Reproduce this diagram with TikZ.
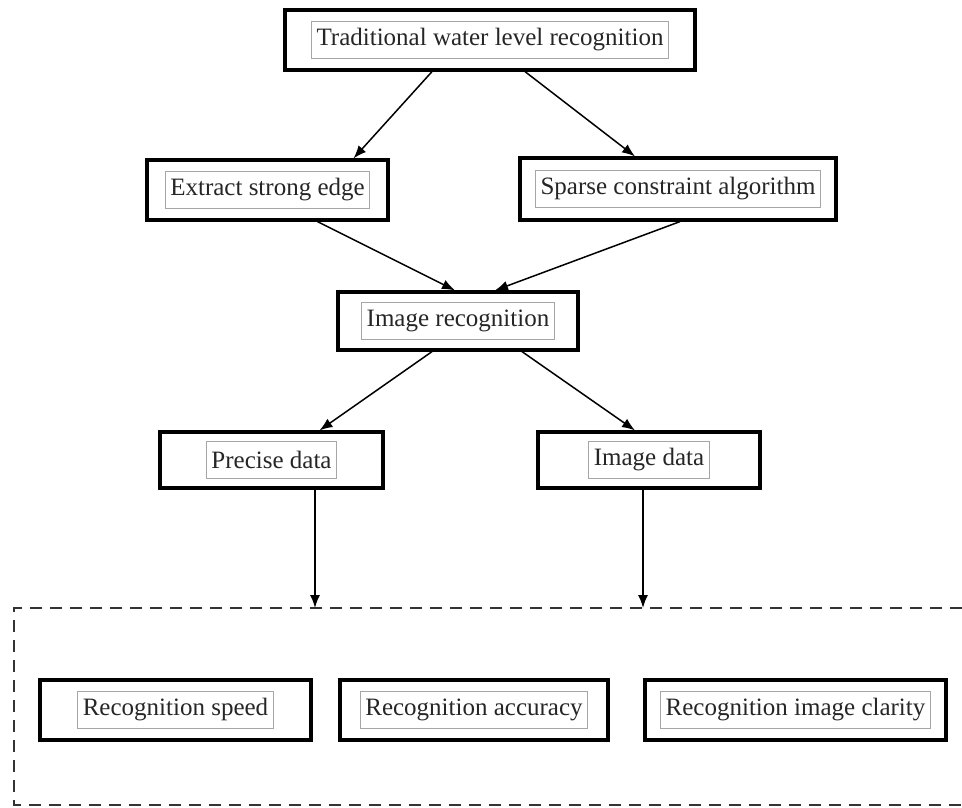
\documentclass[tikz,border=0pt]{standalone}
\usepackage{fontspec}
\setmainfont{Liberation Serif}
\usetikzlibrary{arrows.meta}
\begin{document}
\begin{tikzpicture}[x=1pt,y=-1pt,
  outerbox/.style={draw=black,line width=3.2pt,minimum width=#1,inner sep=0pt},
  innerbox/.style={draw=gray!70,line width=0.9pt,inner xsep=5pt,inner ysep=2pt,minimum height=37pt,font=\fontsize{25}{28}\selectfont,text=black!85},
  arr/.style={-{Latex[length=13pt,width=10pt]},line width=1.5pt}]
\useasboundingbox (0,0) rectangle (962,807);
% outer boxes
\node[outerbox=410pt,minimum height=60pt] (top) at (490,40) {};
\node[outerbox=241pt,minimum height=60pt] (edge) at (267.5,190) {};
\node[outerbox=316pt,minimum height=62pt] (sparse) at (678,189) {};
\node[outerbox=240pt,minimum height=58pt] (imgrec) at (458,321) {};
\node[outerbox=223pt,minimum height=56pt] (precise) at (271.5,460) {};
\node[outerbox=222pt,minimum height=56pt] (imgdata) at (649,460) {};
\node[outerbox=271pt,minimum height=60pt] (speed) at (175.5,710) {};
\node[outerbox=268pt,minimum height=60pt] (accuracy) at (474,710) {};
\node[outerbox=301pt,minimum height=60pt] (clarity) at (795.5,710) {};
% inner labels
\node[innerbox] (topt) at (top) {Traditional water level recognition};
\node[innerbox] (edget) at (edge) {Extract strong edge};
\node[innerbox] (sparset) at (sparse) {Sparse constraint algorithm};
\node[innerbox] (imgrect) at (imgrec) {Image recognition};
\node[innerbox] (preciset) at (precise) {Precise data};
\node[innerbox] (imgdatat) at (imgdata) {Image data};
\node[innerbox] (speedt) at (speed) {Recognition speed};
\node[innerbox] (accuracyt) at (accuracy) {Recognition accuracy};
\node[innerbox] (clarityt) at (clarity) {Recognition image clarity};
% dashed frame (open on the right)
\coordinate (fr1) at (962,608);
\coordinate (fr2) at (14,608);
\coordinate (fr3) at (14,805);
\coordinate (fr4) at (962,805);
\draw[line width=1.5pt,dash pattern=on 12pt off 8pt,draw=black!80] (fr1) -- (fr2) -- (fr3) -- (fr4);
\coordinate (d1) at (315,608);
\coordinate (d2) at (643,608);
% arrows
\draw[arr] ([xshift=-58pt]top.south) -- ([xshift=86pt]edge.north);
\draw[arr] ([xshift=35pt]top.south) -- ([xshift=-43pt]sparse.north);
\draw[arr] ([xshift=50pt]edge.south) -- ([xshift=-3pt]imgrec.north);
\draw[arr] ([xshift=2pt]sparse.south) -- ([xshift=37pt]imgrec.north);
\draw[arr] ([xshift=-26pt]imgrec.south) -- ([xshift=48pt]precise.north);
\draw[arr] ([xshift=64pt]imgrec.south) -- ([xshift=-14pt]imgdata.north);
\draw[arr] ([xshift=43.5pt]precise.south) -- (d1);
\draw[arr] ([xshift=-6pt]imgdata.south) -- (d2);
\end{tikzpicture}
\end{document}
